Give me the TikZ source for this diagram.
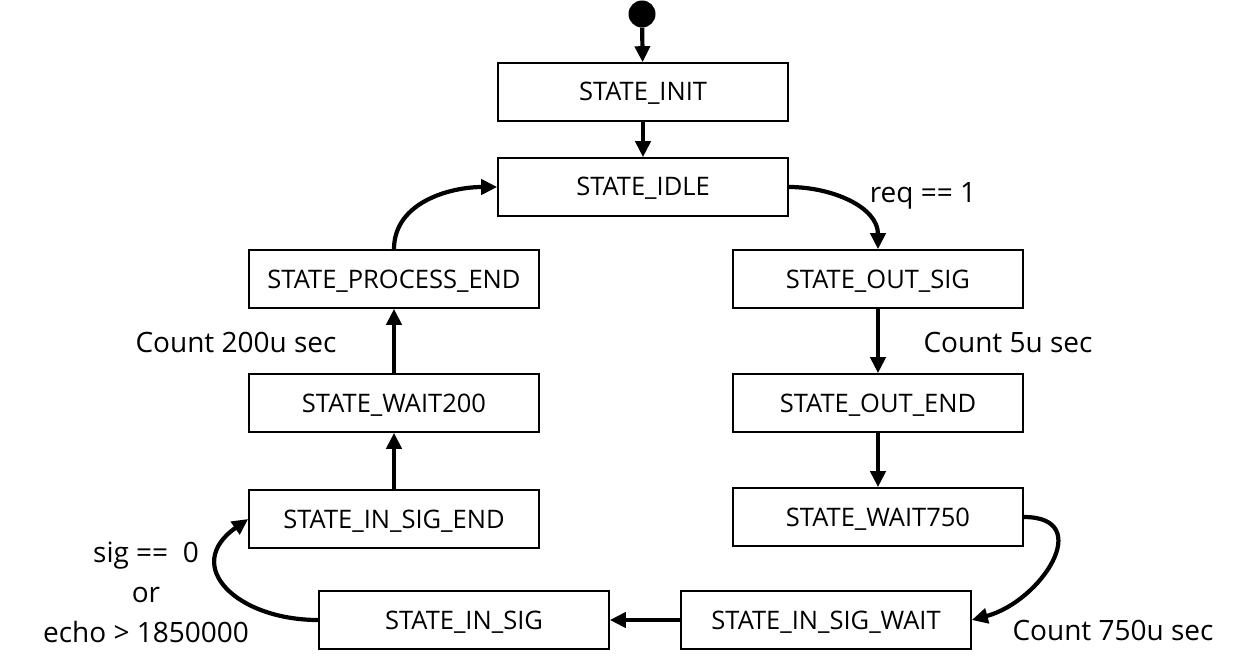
\documentclass[tikz,border=0pt]{standalone}
\usepackage{fontspec}
\setmainfont{Open Sans}
\usepackage{tikz}
\usetikzlibrary{arrows.meta,positioning,calc}

\begin{document}
\begin{tikzpicture}[x=1pt, y=-1pt,
    state/.style={draw, line width=1.6pt, minimum width=290pt, minimum height=58pt, inner sep=0pt,
                  text height=18pt, text depth=0pt, font=\fontsize{25.5}{30}\selectfont},
    trans/.style={line width=4.2pt, -{Triangle[length=16pt,width=15pt]}},
    every node/.style={font=\fontsize{28}{40}\selectfont}]
                    \useasboundingbox (0,0) rectangle (1260,671);
                    \node[circle, fill=black, minimum size=27pt, inner sep=0pt] (Start) at (642,14) {};
                    \node[state] (Init) at (643,92) {STATE\_INIT};
                    \node[state] (Idle) at (643,187) {STATE\_IDLE};
                    \node[state] (ProcEnd) at (394,279) {STATE\_PROCESS\_END};
                    \node[state] (Wait200) at (394,403) {STATE\_WAIT200};
                    \node[state] (InSigEnd) at (394,519) {STATE\_IN\_SIG\_END};
                    \node[state] (OutSig) at (878,279) {STATE\_OUT\_SIG};
                    \node[state] (OutEnd) at (878,403) {STATE\_OUT\_END};
                    \node[state] (Wait750) at (878,517) {STATE\_WAIT750};
                    \node[state] (InSigWait) at (826,620) {STATE\_IN\_SIG\_WAIT};
                    \node[state] (InSig) at (464,620) {STATE\_IN\_SIG};
                    \draw[trans] (Start) -- (Init);
                    \draw[trans] (Init) -- (Idle);
                    \draw[trans] (Idle.east) to[out=0, in=90] (OutSig.north);
                    \node (Req) at (923,196) {req == 1};
                    \draw[trans] (OutSig) -- (OutEnd);
                    \node (Cnt5) at (1008,342) {Count 5u sec};
                    \draw[trans] (OutEnd) -- (Wait750);
                    \draw[trans] (Wait750.east) to[out=0, in=15, looseness=1.6] (InSigWait.east);
                    \node (Cnt750) at (1113,630) {Count 750u sec};
                    \draw[trans] (InSigWait) -- (InSig);
                    \draw[trans] (InSig.west) to[out=180, in=215, looseness=1.7] (InSigEnd.west);
                    \node[align=center] (SigCond) at (146,592) {sig ==\ \ 0\\or\\echo > 1850000};
                    \draw[trans] (InSigEnd) -- (Wait200);
                    \draw[trans] (Wait200) -- (ProcEnd);
                    \node (Cnt200) at (236,342) {Count 200u sec};
                    \draw[trans] (ProcEnd.north) to[out=90, in=180] (Idle.west);
                \end{tikzpicture}
\end{document}
